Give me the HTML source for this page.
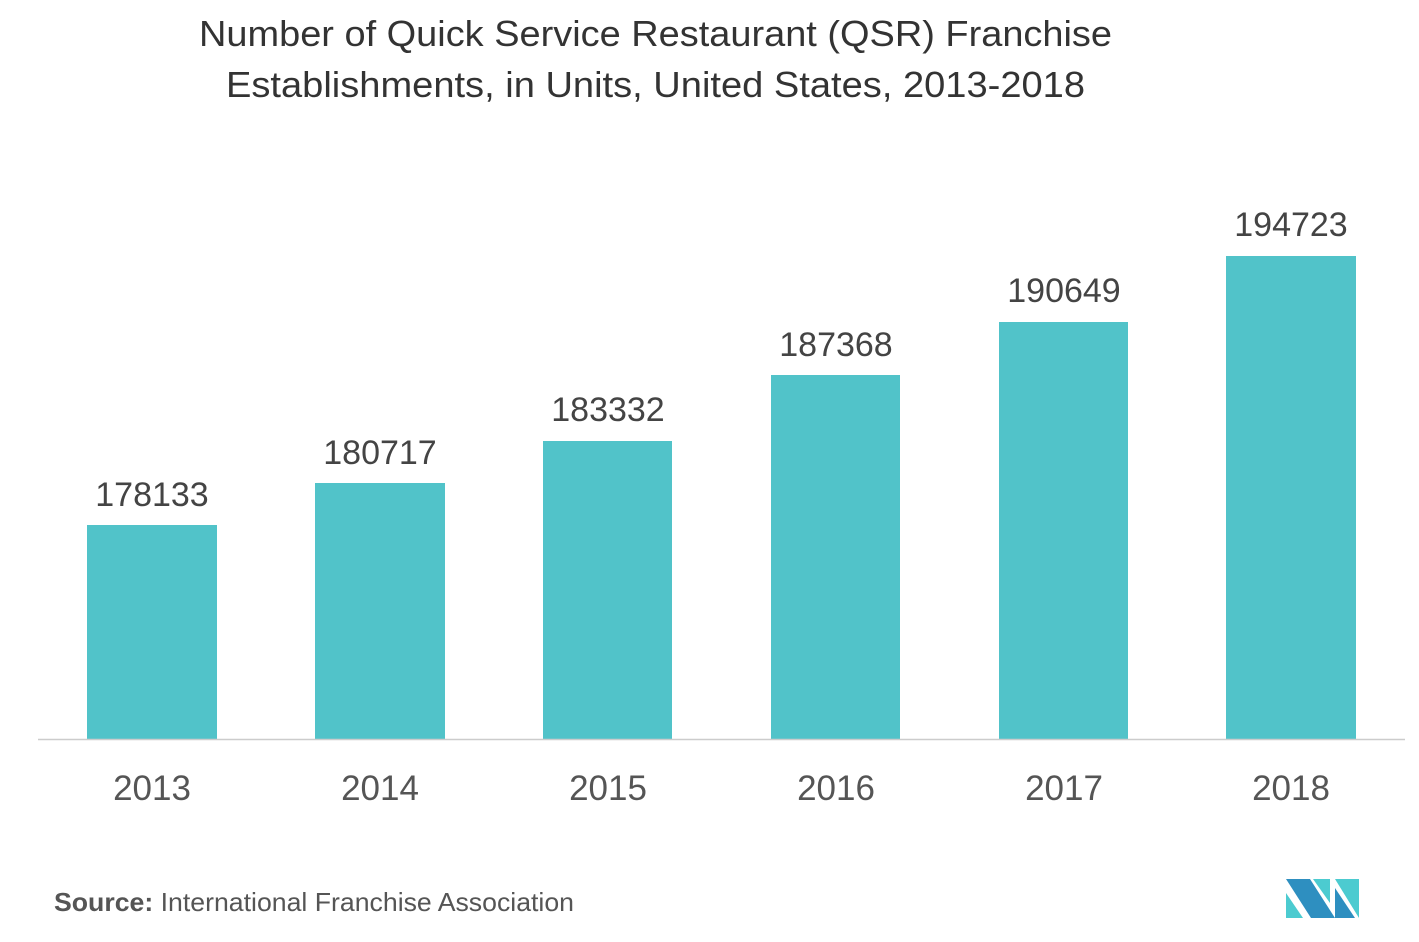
<!DOCTYPE html>
<html><head><style>
body{margin:0;background:#fff;}
svg text{font-family:"Liberation Sans",sans-serif;}
</style></head><body>
<svg width="1419" height="937" xmlns="http://www.w3.org/2000/svg">
<text x="199" y="46" font-size="36" fill="#333" textLength="913" lengthAdjust="spacingAndGlyphs">Number of Quick Service Restaurant (QSR) Franchise</text>
<text x="226" y="97" font-size="36" fill="#333" textLength="859" lengthAdjust="spacingAndGlyphs">Establishments, in  Units, United States, 2013-2018</text>
<g fill="#51c3c9">
<rect x="87" y="525" width="130" height="214"/>
<rect x="315" y="483" width="130" height="256"/>
<rect x="543" y="441" width="129" height="298"/>
<rect x="771" y="375" width="129" height="364"/>
<rect x="999" y="322" width="129" height="417"/>
<rect x="1226" y="256" width="130" height="483"/>
</g>
<line x1="38" y1="739.5" x2="1405" y2="739.5" stroke="#ccc" stroke-width="1.5"/>
<g font-size="34" fill="#444" text-anchor="middle">
<text x="152" y="506">178133</text>
<text x="380" y="464">180717</text>
<text x="608" y="421">183332</text>
<text x="836" y="356">187368</text>
<text x="1064" y="302">190649</text>
<text x="1291" y="236">194723</text>
</g>
<g font-size="35" fill="#555" text-anchor="middle">
<text x="152" y="800">2013</text>
<text x="380" y="800">2014</text>
<text x="608" y="800">2015</text>
<text x="836" y="800">2016</text>
<text x="1064" y="800">2017</text>
<text x="1291" y="800">2018</text>
</g>
<text x="54" y="911" font-size="26" fill="#555" textLength="520" lengthAdjust="spacingAndGlyphs"><tspan font-weight="bold">Source:</tspan> International Franchise Association</text>
<g>
<polygon points="1286,879 1310,879 1335,918 1311,918" fill="#2e8fc0"/>
<polygon points="1286,893 1303,918 1286,918" fill="#4ccbd0"/>
<polygon points="1313,879 1330,879 1330,903" fill="#4ccbd0"/>
<polygon points="1335,879 1359,879 1359,918" fill="#4ccbd0"/>
<polygon points="1335,888 1355,918 1335,918" fill="#2e8fc0"/>
</g>
</svg>
</body></html>
